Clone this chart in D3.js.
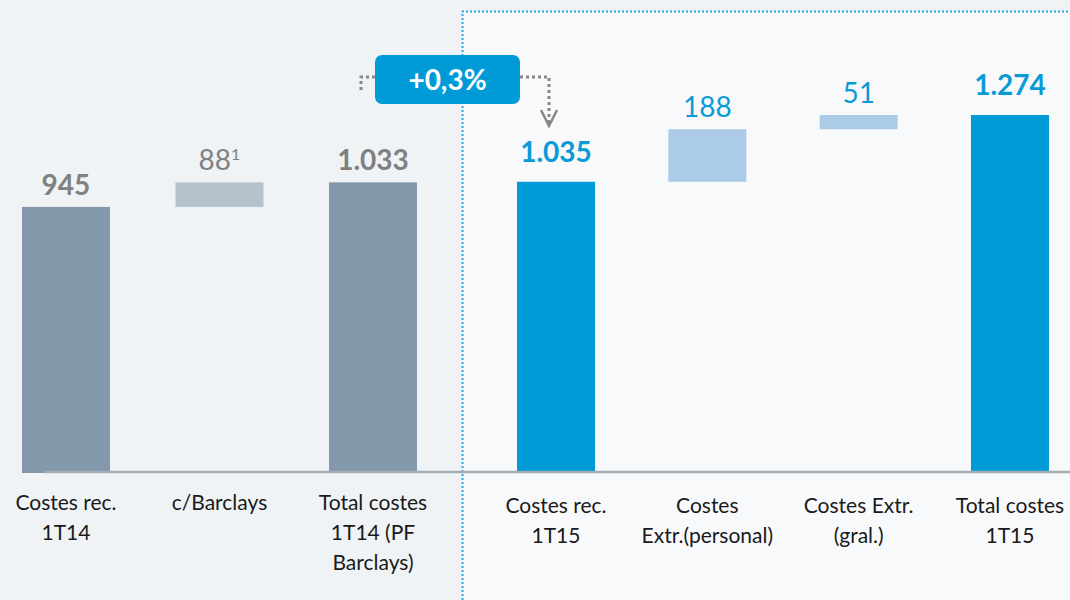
<!DOCTYPE html>
<html>
<head>
<meta charset="utf-8">
<script src="https://cdn.jsdelivr.net/npm/d3@7"></script>
<style>
  body { margin: 0; background: #eff3f5; }
  svg { display: block; font-family: Lato, "Open Sans", sans-serif; }
</style>
</head>
<body>
<div id="chart"></div>
<script>
// datos 1T14 (izquierda)
var leftCats = ["Costes rec.|1T14", "c/Barclays", "Total costes|1T14 (PF|Barclays)"];
var leftValues = [945, 88, 1033];
var leftTypes = ["total", "delta", "total"];
var leftNotes = ["", "1", ""];

// datos 1T15 (derecha)
var rightCats = ["Costes rec.|1T15", "Costes|Extr.(personal)", "Costes Extr.|(gral.)", "Total costes|1T15"];
var rightValues = [1035, 188, 51, 1274];
var rightTypes = ["total", "delta", "delta", "total"];
var rightNotes = ["", "", "", ""];

var changeLabel = "+0,3%";

// formato español: 1.033
var es = d3.formatLocale({decimal: ",", thousands: ".", grouping: [3], currency: ["", "€"]});
var fmt = es.format(",");

var width = 1070, height = 600;

var svg = d3.select("#chart").append("svg")
    .attr("width", width)
    .attr("height", height);

// fondos
svg.append("rect")
    .attr("width", width).attr("height", height)
    .attr("fill", "#eff3f5");
svg.append("rect")
    .attr("x", 462).attr("y", 11)
    .attr("width", width - 462).attr("height", height - 11)
    .attr("fill", "#f8f9fa");
svg.append("path")
    .attr("d", "M462.5," + height + "V11.5H" + width)
    .attr("fill", "none")
    .attr("stroke", "#2ba4dd")
    .attr("stroke-width", 2)
    .attr("stroke-dasharray", "2,2");

// y
var yScale = d3.scaleLinear()
    .domain([0, 1274])
    .range([471, 115]);

// x
var xLeft = d3.scaleBand()
    .domain(d3.range(leftCats.length))
    .range([22, 417])
    .paddingInner(0.427)
    .paddingOuter(0);
var xRight = d3.scaleBand()
    .domain(d3.range(rightCats.length))
    .range([517, 1049])
    .paddingInner(0.4845)
    .paddingOuter(0);

function steps(values, types) {
    var run = 0;
    return values.map(function(v, i) {
        var d = {i: i, v: v, type: types[i]};
        if (types[i] == "total") { d.y0 = 0; d.y1 = v; run = v; }
        else { d.y0 = run; d.y1 = run + v; run += v; }
        return d;
    });
}

var colors = {
    left: {total: "#8398ab", delta: "#b4c2cd", text: "#808080"},
    right: {total: "#009ad7", delta: "#abcbe8", text: "#0a9ad6"}
};

function drawGroup(cats, values, types, notes, x, pal, catDy, gap) {
    var data = steps(values, types);
    var g = svg.append("g");

    g.selectAll(".bar")
        .data(data)
        .enter()
        .append("rect")
        .attr("class", "bar")
        .attr("x", function(d) { return x(d.i); })
        .attr("y", function(d) { return yScale(d.y1); })
        .attr("width", x.bandwidth())
        .attr("height", function(d) { return yScale(d.y0) - yScale(d.y1) + (d.type == "total" ? 2 : 0); })
        .attr("fill", function(d) { return pal[d.type]; });

    // valores
    var lbl = g.selectAll(".val")
        .data(data)
        .enter()
        .append("text")
        .attr("class", "val")
        .attr("x", function(d) { return x(d.i) + x.bandwidth() / 2; })
        .attr("y", function(d) { return yScale(d.y1) - (d.type == "total" ? gap : 12); })
        .attr("text-anchor", "middle")
        .attr("fill", pal.text)
        .style("font-size", "28px")
        .style("font-weight", function(d) { return d.type == "total" ? "bold" : "normal"; });
    lbl.append("tspan").text(function(d) { return fmt(d.v); });
    lbl.append("tspan")
        .attr("dy", -10)
        .style("font-size", "16px")
        .text(function(d) { return notes[d.i]; });

    // categorias
    var cat = g.selectAll(".cat")
        .data(cats)
        .enter()
        .append("text")
        .attr("class", "cat")
        .attr("text-anchor", "middle")
        .attr("fill", "#1a1a1a")
        .style("font-size", "21px");
    cat.each(function(c, i) {
        var t = d3.select(this);
        c.split("|").forEach(function(line, k) {
            t.append("tspan")
                .attr("x", x(i) + x.bandwidth() / 2)
                .attr("y", 510 + catDy + k * 30)
                .text(line);
        });
    });
}

drawGroup(leftCats, leftValues, leftTypes, leftNotes, xLeft, colors.left, 0, 12);
drawGroup(rightCats, rightValues, rightTypes, rightNotes, xRight, colors.right, 3, 20);

// eje
svg.append("line")
    .attr("x1", 45).attr("x2", width)
    .attr("y1", yScale(0) + 1).attr("y2", yScale(0) + 1)
    .attr("stroke", "#a3adb6")
    .attr("stroke-width", 2.5);

// flecha de variacion
var arrowX = xRight(0) + xRight.bandwidth() / 2 - 7;
var dots = {fill: "none", stroke: "#888", "stroke-width": 3, "stroke-dasharray": "3,3"};
var p1 = svg.append("path").attr("d", "M375,77H361V92");
var p2 = svg.append("path").attr("d", "M520,77H" + arrowX + "V124");
[p1, p2].forEach(function(p) {
    for (var k in dots) p.attr(k, dots[k]);
});
svg.append("path")
    .attr("d", "M" + (arrowX - 8) + ",110L" + arrowX + ",126L" + (arrowX + 8) + ",110")
    .attr("fill", "none")
    .attr("stroke", "#888")
    .attr("stroke-width", 2.5);

svg.append("rect")
    .attr("x", 375).attr("y", 55)
    .attr("width", 145).attr("height", 49)
    .attr("rx", 7)
    .attr("fill", "#009ad7");
svg.append("text")
    .attr("x", 447.5).attr("y", 90)
    .attr("text-anchor", "middle")
    .attr("fill", "#fff")
    .style("font-size", "28px")
    .style("font-weight", "bold")
    .text(changeLabel);
</script>
</body>
</html>
